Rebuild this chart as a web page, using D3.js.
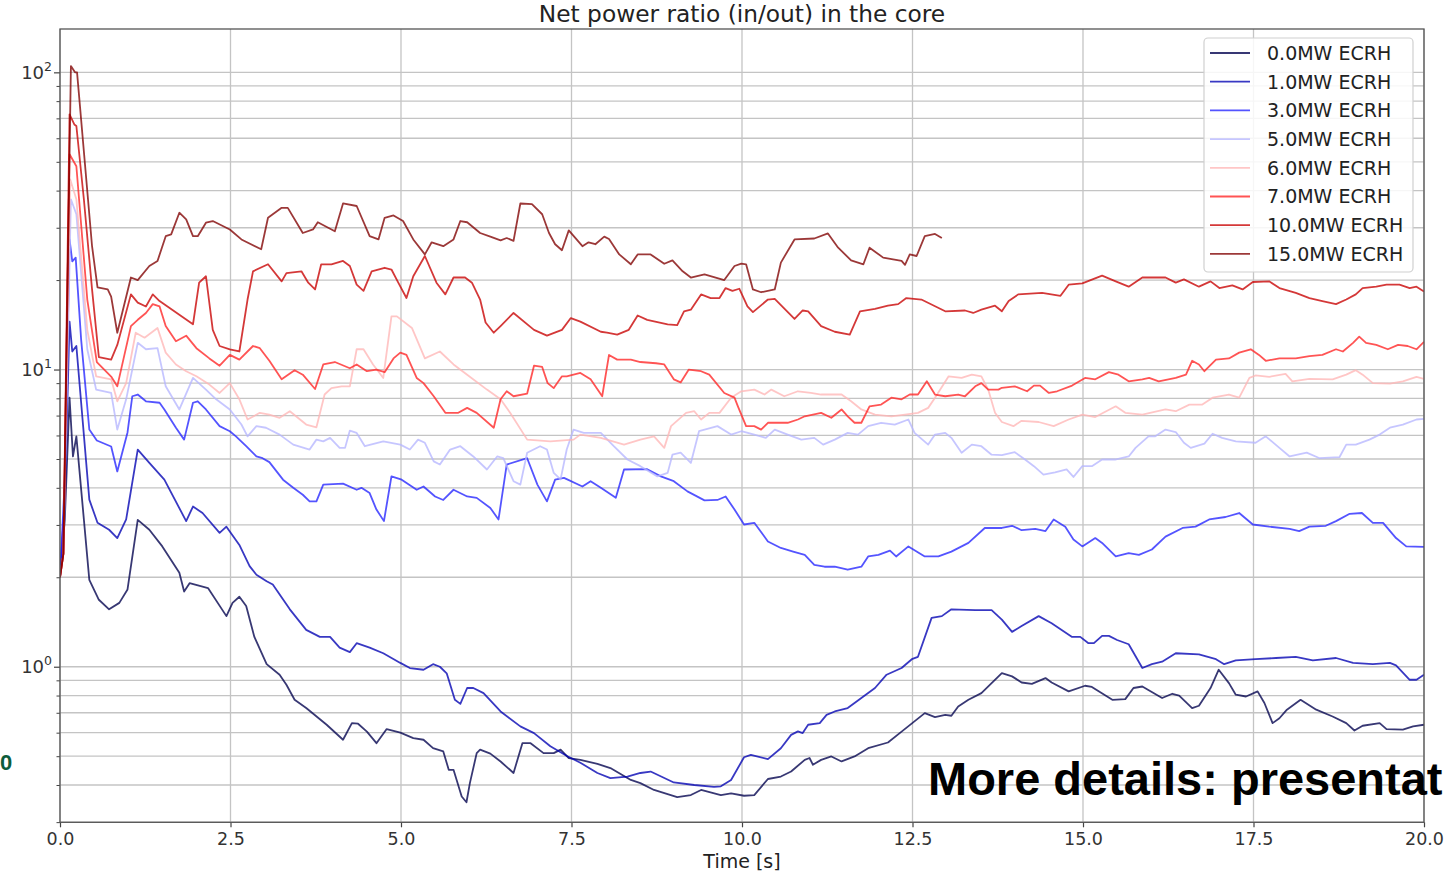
<!DOCTYPE html>
<html>
<head>
<meta charset="utf-8">
<script src="https://cdn.jsdelivr.net/npm/d3@7"></script>
<style>
  body { margin: 0; background: #fff; }
  svg { display: block; font-family: "DejaVu Sans", sans-serif; }
</style>
</head>
<body>
<div id="chart"></div>
<script>
// ---- data: [time s, net power ratio] ----
const ecrh0 = [[0,2.0],[0.07,3.12],[0.14,8.04],[0.19,5.10],[0.24,5.96],[0.43,1.96],[0.57,1.68],[0.72,1.56],[0.87,1.64],[0.99,1.82],[1.14,3.12],[1.31,2.89],[1.50,2.54],[1.75,2.07],[1.82,1.79],[1.90,1.91],[2.09,1.86],[2.17,1.84],[2.44,1.48],[2.53,1.64],[2.63,1.72],[2.73,1.60],[2.85,1.26],[3.03,1.02],[3.22,0.94],[3.32,0.87],[3.44,0.774],[3.61,0.726],[3.91,0.638],[4.15,0.568],[4.28,0.646],[4.37,0.643],[4.50,0.605],[4.64,0.553],[4.79,0.617],[4.99,0.60],[5.18,0.575],[5.33,0.568],[5.47,0.532],[5.62,0.519],[5.70,0.45],[5.77,0.45],[5.89,0.366],[5.96,0.35],[6.01,0.406],[6.11,0.512],[6.16,0.526],[6.31,0.51],[6.46,0.48],[6.65,0.439],[6.78,0.553],[6.90,0.553],[7.09,0.512],[7.24,0.512],[7.34,0.526],[7.46,0.493],[7.63,0.486],[7.88,0.471],[8.07,0.456],[8.37,0.416],[8.51,0.406],[8.71,0.385],[9.05,0.364],[9.25,0.37],[9.40,0.385],[9.69,0.37],[9.84,0.375],[10.03,0.368],[10.18,0.37],[10.38,0.419],[10.57,0.427],[10.72,0.444],[10.92,0.486],[10.99,0.493],[11.04,0.468],[11.16,0.486],[11.31,0.499],[11.46,0.48],[11.65,0.499],[11.85,0.532],[12.14,0.556],[12.34,0.605],[12.68,0.698],[12.83,0.677],[12.98,0.689],[13.07,0.684],[13.17,0.735],[13.32,0.774],[13.51,0.815],[13.66,0.881],[13.81,0.952],[13.96,0.928],[14.10,0.885],[14.25,0.876],[14.45,0.916],[14.54,0.885],[14.79,0.826],[15.03,0.863],[15.13,0.855],[15.43,0.774],[15.62,0.778],[15.74,0.848],[15.87,0.858],[16.16,0.785],[16.31,0.811],[16.41,0.80],[16.60,0.726],[16.70,0.739],[16.87,0.848],[16.99,0.977],[17.14,0.881],[17.24,0.805],[17.39,0.794],[17.56,0.826],[17.66,0.755],[17.78,0.646],[17.88,0.671],[17.99,0.717],[18.19,0.774],[18.42,0.717],[18.66,0.68],[18.86,0.646],[18.98,0.61],[19.10,0.633],[19.35,0.646],[19.45,0.617],[19.69,0.614],[19.84,0.63],[20.0,0.638]];

const ecrh1 = [[0,2.0],[0.07,3.65],[0.14,14.5],[0.18,11.5],[0.24,12.0],[0.43,3.65],[0.55,3.05],[0.72,2.89],[0.84,2.71],[0.97,3.13],[1.14,5.38],[1.31,4.85],[1.53,4.26],[1.85,3.09],[1.95,3.46],[2.09,3.29],[2.34,2.82],[2.44,2.96],[2.63,2.57],[2.78,2.18],[2.88,2.04],[3.03,1.94],[3.12,1.89],[3.37,1.56],[3.61,1.33],[3.81,1.26],[3.96,1.26],[4.10,1.16],[4.25,1.12],[4.35,1.20],[4.54,1.16],[4.74,1.11],[4.99,1.03],[5.13,0.99],[5.33,0.977],[5.47,1.02],[5.57,1.0],[5.67,0.95],[5.79,0.774],[5.87,0.75],[5.97,0.848],[6.06,0.848],[6.21,0.815],[6.46,0.707],[6.75,0.63],[6.95,0.598],[7.19,0.54],[7.44,0.50],[7.63,0.475],[7.88,0.439],[8.07,0.422],[8.32,0.427],[8.51,0.439],[8.66,0.444],[9.00,0.408],[9.30,0.40],[9.59,0.394],[9.69,0.396],[9.84,0.416],[10.03,0.496],[10.13,0.505],[10.38,0.489],[10.57,0.532],[10.72,0.59],[10.82,0.606],[10.89,0.598],[10.97,0.638],[11.14,0.646],[11.24,0.689],[11.36,0.707],[11.55,0.726],[11.75,0.785],[11.95,0.848],[12.12,0.94],[12.34,0.99],[12.49,1.06],[12.58,1.08],[12.78,1.46],[12.93,1.48],[13.07,1.56],[13.42,1.55],[13.66,1.55],[13.81,1.44],[13.96,1.31],[14.10,1.37],[14.35,1.48],[14.54,1.40],[14.84,1.26],[14.96,1.26],[15.08,1.20],[15.16,1.20],[15.28,1.27],[15.38,1.27],[15.50,1.23],[15.67,1.19],[15.87,0.99],[16.01,1.02],[16.16,1.04],[16.36,1.11],[16.70,1.10],[16.95,1.06],[17.07,1.02],[17.24,1.05],[17.53,1.06],[17.83,1.07],[18.12,1.08],[18.37,1.05],[18.71,1.07],[18.96,1.03],[19.25,1.02],[19.50,1.03],[19.59,1.01],[19.79,0.904],[19.89,0.904],[20.0,0.94]];

const ecrh3 = [[0,2.0],[0.07,4.26],[0.14,27.4],[0.18,23.1],[0.23,23.8],[0.31,12.6],[0.43,6.28],[0.54,5.77],[0.75,5.51],[0.84,4.54],[0.99,6.14],[1.06,8.13],[1.14,8.24],[1.26,7.82],[1.46,7.73],[1.53,7.34],[1.70,6.37],[1.82,5.81],[1.95,7.73],[2.02,7.82],[2.14,7.34],[2.34,6.45],[2.49,6.2],[2.58,5.96],[2.73,5.52],[2.88,5.10],[2.97,5.03],[3.07,4.88],[3.27,4.26],[3.42,4.0],[3.56,3.79],[3.66,3.6],[3.76,3.6],[3.86,4.10],[4.15,4.13],[4.35,3.94],[4.42,4.0],[4.54,3.84],[4.64,3.38],[4.75,3.09],[4.86,4.37],[5.01,4.26],[5.23,3.94],[5.33,4.04],[5.50,3.74],[5.62,3.64],[5.77,3.94],[5.97,3.74],[6.11,3.70],[6.31,3.42],[6.43,3.13],[6.55,4.79],[6.85,5.03],[7.00,4.10],[7.14,3.6],[7.26,4.26],[7.39,4.32],[7.66,4.04],[7.78,4.21],[7.93,4.0],[8.15,3.70],[8.27,4.61],[8.61,4.62],[8.81,4.37],[9.00,4.21],[9.20,3.89],[9.45,3.63],[9.64,3.64],[9.76,3.74],[9.89,3.38],[10.03,3.01],[10.18,3.05],[10.38,2.64],[10.57,2.51],[10.75,2.44],[10.92,2.38],[11.06,2.2],[11.21,2.17],[11.36,2.17],[11.55,2.12],[11.75,2.17],[11.85,2.35],[12.00,2.38],[12.17,2.46],[12.26,2.35],[12.44,2.54],[12.68,2.35],[12.88,2.35],[13.07,2.44],[13.32,2.61],[13.56,2.93],[13.81,2.93],[13.96,2.98],[14.10,2.88],[14.30,2.91],[14.45,2.86],[14.57,3.13],[14.74,2.96],[14.86,2.68],[14.99,2.54],[15.18,2.71],[15.28,2.61],[15.48,2.35],[15.67,2.41],[15.82,2.38],[16.01,2.48],[16.21,2.74],[16.46,2.93],[16.65,2.96],[16.85,3.13],[17.09,3.19],[17.29,3.29],[17.49,3.01],[17.73,2.96],[18.03,2.91],[18.17,2.86],[18.32,2.96],[18.56,2.98],[18.71,3.09],[18.91,3.27],[19.09,3.29],[19.25,3.05],[19.40,3.05],[19.59,2.71],[19.74,2.54],[20.0,2.53]];

const ecrh5 = [[0,2.0],[0.05,2.4],[0.16,37.4],[0.24,33.3],[0.40,11.7],[0.53,8.56],[0.75,8.34],[0.84,6.28],[0.97,7.94],[1.14,12.3],[1.26,11.7],[1.43,11.8],[1.55,8.78],[1.75,7.34],[1.95,9.37],[2.14,8.56],[2.29,7.94],[2.49,7.34],[2.66,6.53],[2.75,5.96],[2.88,6.45],[3.02,6.37],[3.22,6.04],[3.42,5.59],[3.66,5.38],[3.76,5.81],[3.86,5.73],[3.96,5.89],[4.10,5.45],[4.18,5.45],[4.25,6.23],[4.35,6.12],[4.47,5.52],[4.74,5.73],[4.99,5.59],[5.13,5.38],[5.25,5.81],[5.35,5.67],[5.48,4.91],[5.57,4.79],[5.72,5.38],[5.87,5.52],[6.06,5.10],[6.26,4.61],[6.41,5.10],[6.50,5.03],[6.65,4.21],[6.75,4.10],[6.85,5.25],[7.04,5.52],[7.14,5.38],[7.24,4.49],[7.34,4.27],[7.43,5.38],[7.53,6.28],[7.68,6.12],[7.93,6.12],[8.12,5.52],[8.32,4.98],[8.51,4.73],[8.76,4.37],[8.91,4.49],[8.98,5.17],[9.10,5.25],[9.25,4.85],[9.37,6.2],[9.64,6.45],[9.84,6.04],[9.99,6.2],[10.18,6.04],[10.35,5.89],[10.48,6.28],[10.67,6.04],[10.87,5.81],[11.06,5.89],[11.19,5.59],[11.36,5.81],[11.55,6.12],[11.70,6.04],[11.85,6.45],[12.04,6.62],[12.24,6.53],[12.44,6.79],[12.53,6.12],[12.73,5.59],[12.83,6.04],[12.98,6.12],[13.07,5.89],[13.22,5.25],[13.37,5.59],[13.51,5.52],[13.66,5.17],[13.81,5.15],[14.00,5.27],[14.15,4.98],[14.28,4.73],[14.42,4.43],[14.59,4.51],[14.76,4.61],[14.86,4.35],[14.99,4.73],[15.13,4.73],[15.28,4.98],[15.47,4.98],[15.67,5.10],[15.77,5.45],[15.96,5.96],[16.06,5.96],[16.21,6.28],[16.36,6.16],[16.48,5.67],[16.58,5.45],[16.78,5.63],[16.90,6.08],[17.04,5.89],[17.24,5.73],[17.53,5.67],[17.68,5.96],[17.88,5.45],[18.03,5.10],[18.28,5.25],[18.47,5.03],[18.76,5.07],[18.86,5.59],[19.00,5.59],[19.20,5.81],[19.35,6.04],[19.50,6.37],[19.69,6.53],[19.89,6.79],[20.0,6.82]];

const ecrh6 = [[0,2.0],[0.05,2.4],[0.15,43.6],[0.24,37.4],[0.40,13.6],[0.53,9.49],[0.75,9.27],[0.84,7.82],[0.97,9.0],[1.11,13.3],[1.24,12.8],[1.43,13.8],[1.55,11.4],[1.70,10.4],[1.85,9.87],[2.00,9.49],[2.19,8.9],[2.34,8.34],[2.49,9.0],[2.63,7.94],[2.75,6.79],[2.93,7.15],[3.07,7.05],[3.22,6.88],[3.37,7.24],[3.61,6.53],[3.76,6.39],[3.88,8.24],[3.98,8.66],[4.13,8.78],[4.25,8.78],[4.35,11.7],[4.45,11.7],[4.59,10.4],[4.74,9.37],[4.86,15.1],[4.94,15.1],[5.16,13.8],[5.35,10.9],[5.57,11.5],[5.77,10.4],[5.97,9.61],[6.26,8.56],[6.46,7.94],[6.60,7.15],[6.85,5.81],[7.19,5.73],[7.53,5.81],[7.63,6.04],[7.93,5.89],[8.27,5.59],[8.51,5.81],[8.71,5.96],[8.86,5.45],[8.96,6.45],[9.18,7.15],[9.30,7.24],[9.40,6.79],[9.52,7.15],[9.67,7.15],[9.84,8.04],[9.99,8.45],[10.18,8.56],[10.33,8.24],[10.43,8.56],[10.62,8.13],[10.82,8.45],[11.01,8.34],[11.16,8.24],[11.46,8.24],[11.60,7.82],[11.75,7.34],[11.95,7.05],[12.19,6.96],[12.39,7.05],[12.58,7.15],[12.73,7.43],[12.83,8.04],[13.03,9.49],[13.22,9.37],[13.37,9.61],[13.51,9.49],[13.61,8.56],[13.71,7.15],[13.81,6.66],[13.98,6.45],[14.10,6.72],[14.35,6.66],[14.57,6.45],[14.79,6.79],[14.99,7.05],[15.18,6.92],[15.48,7.52],[15.62,7.15],[15.87,7.05],[16.21,7.34],[16.36,7.24],[16.56,7.62],[16.75,7.62],[16.90,8.04],[17.14,8.24],[17.29,8.04],[17.44,9.37],[17.53,9.55],[17.73,9.45],[17.97,9.67],[18.07,9.13],[18.32,9.3],[18.66,9.27],[18.86,9.61],[19.00,9.95],[19.10,9.61],[19.25,9.0],[19.50,8.96],[19.69,9.13],[19.89,9.45],[20.0,9.3]];

const ecrh7 = [[0,2.0],[0.05,2.4],[0.14,53.0],[0.24,48.3],[0.40,17.2],[0.54,10.6],[0.75,9.47],[0.84,8.78],[1.04,14.0],[1.14,14.7],[1.26,15.5],[1.36,16.6],[1.46,16.3],[1.55,14.0],[1.70,12.45],[1.85,13.0],[2.00,11.8],[2.19,10.9],[2.34,10.3],[2.49,11.2],[2.63,10.8],[2.83,12.0],[2.93,11.8],[3.07,10.7],[3.25,9.27],[3.44,9.95],[3.56,9.61],[3.74,8.6],[3.86,10.4],[4.03,10.6],[4.25,10.1],[4.35,10.4],[4.50,9.87],[4.64,10.0],[4.76,9.8],[4.89,10.9],[4.99,11.4],[5.08,11.2],[5.23,9.37],[5.33,9.0],[5.48,8.13],[5.65,7.15],[5.84,7.15],[5.97,7.43],[6.11,7.15],[6.36,6.37],[6.46,7.94],[6.55,8.45],[6.65,8.13],[6.85,8.3],[6.95,10.3],[7.07,10.2],[7.15,9.0],[7.24,8.66],[7.36,9.49],[7.43,9.49],[7.63,9.74],[7.78,9.27],[7.95,8.13],[8.05,11.2],[8.17,10.8],[8.37,10.8],[8.51,10.6],[8.74,10.5],[8.86,10.4],[9.00,9.27],[9.10,9.05],[9.22,10.0],[9.40,9.87],[9.52,9.61],[9.74,8.34],[9.89,8.04],[9.94,7.52],[10.06,6.45],[10.18,6.45],[10.28,6.28],[10.38,6.62],[10.67,6.62],[10.82,6.79],[10.92,6.96],[11.16,7.15],[11.31,6.88],[11.46,7.34],[11.55,6.96],[11.65,6.62],[11.75,6.62],[11.87,7.52],[12.04,7.62],[12.19,8.04],[12.34,7.94],[12.46,8.24],[12.58,8.24],[12.71,9.13],[12.83,8.24],[12.98,8.13],[13.17,8.24],[13.27,8.13],[13.42,8.78],[13.51,9.0],[13.61,8.56],[13.76,8.56],[13.81,8.68],[14.00,8.78],[14.18,8.45],[14.28,8.83],[14.37,8.83],[14.50,8.34],[14.62,8.45],[14.84,8.83],[15.03,9.37],[15.18,9.27],[15.38,9.80],[15.52,9.61],[15.67,9.13],[15.87,9.27],[15.97,9.37],[16.11,9.13],[16.36,9.37],[16.51,9.61],[16.60,10.7],[16.70,10.4],[16.78,9.87],[16.95,10.8],[17.14,10.9],[17.29,11.4],[17.46,11.7],[17.58,11.2],[17.68,10.7],[17.88,10.9],[18.12,10.9],[18.32,11.1],[18.51,11.2],[18.71,11.7],[18.81,11.5],[18.96,12.3],[19.05,12.9],[19.15,12.3],[19.30,12.1],[19.47,11.7],[19.62,12.1],[19.76,12.0],[19.89,11.7],[20.0,12.4]];

const ecrh10 = [[0,2.0],[0.05,2.4],[0.14,72.2],[0.21,66.8],[0.24,66.0],[0.35,37.4],[0.47,18.6],[0.57,11.0],[0.75,10.8],[0.84,12.1],[1.04,17.9],[1.14,16.8],[1.26,16.3],[1.36,17.9],[1.46,17.0],[1.95,14.2],[2.04,19.6],[2.14,20.6],[2.24,13.6],[2.34,12.0],[2.49,11.7],[2.63,11.5],[2.75,17.2],[2.83,21.4],[3.05,22.6],[3.25,19.8],[3.32,21.1],[3.54,21.4],[3.64,19.6],[3.74,18.6],[3.83,22.6],[3.98,22.6],[4.15,23.2],[4.25,22.3],[4.35,19.3],[4.45,18.4],[4.57,21.4],[4.76,22.0],[4.86,21.7],[4.96,19.6],[5.08,17.4],[5.18,20.6],[5.35,24.1],[5.52,19.6],[5.65,17.9],[5.77,20.4],[5.94,20.4],[6.04,19.6],[6.16,17.2],[6.24,14.4],[6.36,13.3],[6.46,14.0],[6.65,15.5],[6.95,13.6],[7.14,13.0],[7.36,13.6],[7.49,14.9],[7.63,14.5],[7.93,13.4],[8.02,13.3],[8.17,13.1],[8.34,13.6],[8.47,15.2],[8.61,14.7],[8.91,14.2],[9.05,14.1],[9.15,15.7],[9.25,15.9],[9.40,17.9],[9.54,17.4],[9.67,17.4],[9.76,18.8],[9.86,18.4],[9.96,18.7],[10.08,16.3],[10.16,15.6],[10.38,17.2],[10.48,17.3],[10.77,14.8],[10.89,15.8],[10.97,15.7],[11.16,14.0],[11.36,13.4],[11.58,13.1],[11.73,15.7],[11.95,16.0],[12.14,16.4],[12.29,16.6],[12.41,17.4],[12.63,17.2],[12.98,15.7],[13.27,15.8],[13.39,15.5],[13.51,15.9],[13.71,16.4],[13.81,15.7],[13.91,17.0],[14.05,17.9],[14.40,18.1],[14.67,17.7],[14.79,19.3],[14.99,19.5],[15.28,20.7],[15.48,19.8],[15.67,19.0],[15.87,20.4],[16.21,20.4],[16.36,19.6],[16.48,20.1],[16.70,19.0],[16.87,19.8],[17.00,18.8],[17.19,19.2],[17.34,18.6],[17.49,19.7],[17.73,19.8],[17.88,18.8],[18.12,18.1],[18.32,17.4],[18.51,17.0],[18.71,16.6],[18.86,17.2],[19.00,17.9],[19.10,18.8],[19.30,19.0],[19.45,19.3],[19.64,19.3],[19.79,18.8],[19.89,19.0],[20.0,18.3]];

const ecrh15 = [[0,2.0],[0.05,2.4],[0.16,105],[0.22,100],[0.25,100],[0.47,26.0],[0.55,18.9],[0.70,18.6],[0.75,17.6],[0.84,13.3],[1.04,20.4],[1.14,20.0],[1.31,22.3],[1.43,23.2],[1.55,28.1],[1.63,28.5],[1.75,33.7],[1.85,32.0],[1.95,28.1],[2.02,28.1],[2.14,31.2],[2.24,31.6],[2.49,29.6],[2.66,27.4],[2.95,25.4],[3.05,32.4],[3.25,35.0],[3.34,35.0],[3.56,28.8],[3.71,29.6],[3.78,31.3],[4.03,29.2],[4.15,36.2],[4.35,35.5],[4.54,28.1],[4.67,27.4],[4.76,32.4],[4.89,33.0],[5.03,31.6],[5.18,27.4],[5.35,24.4],[5.45,26.8],[5.62,26.0],[5.77,27.4],[5.87,31.6],[5.97,31.3],[6.16,28.8],[6.31,28.0],[6.46,27.2],[6.55,27.7],[6.65,27.1],[6.75,36.2],[6.92,36.0],[7.07,33.3],[7.17,28.8],[7.26,26.4],[7.36,25.2],[7.46,29.4],[7.66,26.0],[7.75,26.8],[7.85,26.4],[7.98,28.0],[8.05,27.5],[8.20,24.4],[8.37,22.6],[8.47,24.4],[8.66,24.4],[8.86,22.7],[8.98,23.3],[9.13,21.4],[9.25,20.4],[9.45,20.9],[9.74,20.0],[9.89,22.3],[9.99,22.7],[10.06,22.6],[10.16,18.6],[10.28,18.2],[10.48,18.6],[10.57,22.9],[10.77,27.4],[11.06,27.6],[11.26,28.7],[11.41,25.7],[11.60,23.3],[11.78,22.6],[11.87,25.7],[12.07,23.8],[12.34,23.2],[12.39,22.5],[12.46,24.4],[12.56,24.1],[12.68,28.1],[12.83,28.6],[12.93,27.7]];

const powers = [0.0, 1.0, 3.0, 5.0, 6.0, 7.0, 10.0, 15.0];
const seriesData = [ecrh0, ecrh1, ecrh3, ecrh5, ecrh6, ecrh7, ecrh10, ecrh15];
// seismic colormap sampled at i/7
const seriesColors = ["#00004d", "#0000b2", "#2424ff", "#b6b6ff", "#ffb6b6", "#ff2424", "#c80000", "#800000"];

const xTicks = [0, 2.5, 5, 7.5, 10, 12.5, 15, 17.5, 20];
const yMajor = [1, 10, 100];
const yMinor = [0.3, 0.4, 0.5, 0.6, 0.7, 0.8, 0.9, 2, 3, 4, 5, 6, 7, 8, 9, 20, 30, 40, 50, 60, 70, 80, 90];
const yExponents = ["0", "1", "2"];

const chartTitle = "Net power ratio (in/out) in the core";
const xTitle = "Time [s]";

// ---- layout ----
const width = 1447, height = 873;
const plot = {left: 60, right: 1424, top: 29, bottom: 822.3};

const svg = d3.select("#chart").append("svg")
    .attr("width", width)
    .attr("height", height);

svg.append("rect").attr("width", width).attr("height", height).attr("fill", "#fff");

const x = d3.scaleLinear().domain([0, 20]).range([plot.left, plot.right]);
const y = d3.scaleLog().domain([0.2996, 139.9]).range([plot.bottom, plot.top]);

// grid
const grid = svg.append("g").attr("stroke", "#c4c4c4").attr("stroke-width", 1.3);
grid.selectAll("line.hgrid")
    .data(yMajor.concat(yMinor))
    .enter().append("line")
    .attr("class", "hgrid")
    .attr("x1", plot.left).attr("x2", plot.right)
    .attr("y1", d => y(d)).attr("y2", d => y(d));
grid.selectAll("line.vgrid")
    .data(xTicks)
    .enter().append("line")
    .attr("class", "vgrid")
    .attr("x1", d => x(d)).attr("x2", d => x(d))
    .attr("y1", plot.top).attr("y2", plot.bottom);

// lines
svg.append("clipPath").attr("id", "plotClip")
  .append("rect")
    .attr("x", plot.left).attr("y", plot.top)
    .attr("width", plot.right - plot.left).attr("height", plot.bottom - plot.top);

const line = d3.line()
    .x(d => x(d[0]))
    .y(d => y(d[1]));

svg.append("g")
    .attr("clip-path", "url(#plotClip)")
  .selectAll("path")
    .data(seriesData)
    .enter().append("path")
    .attr("d", line)
    .attr("fill", "none")
    .attr("stroke", (d, i) => seriesColors[i])
    .attr("stroke-opacity", 0.78)
    .attr("stroke-width", 1.8)
    .attr("stroke-linejoin", "round");

// axes
const xAxis = svg.append("g")
    .attr("transform", `translate(0,${plot.bottom})`)
    .call(d3.axisBottom(x).tickValues(xTicks).tickFormat(d3.format(".1f")).tickSize(5).tickPadding(5));
xAxis.select(".domain").remove();
xAxis.selectAll(".tick line").attr("stroke", "#444").attr("stroke-width", 1.2);
xAxis.selectAll(".tick text")
    .attr("font-family", "DejaVu Sans")
    .attr("font-size", 17.5)
    .attr("fill", "#333");

const yAxis = svg.append("g")
    .attr("transform", `translate(${plot.left},0)`)
    .call(d3.axisLeft(y).tickValues(yMajor).tickFormat("").tickSize(6));
yAxis.select(".domain").remove();
yAxis.selectAll(".tick line").attr("stroke", "#444").attr("stroke-width", 1.2);

const yMinorAxis = svg.append("g")
    .attr("transform", `translate(${plot.left},0)`)
    .call(d3.axisLeft(y).tickValues(yMinor).tickFormat("").tickSize(3.5));
yMinorAxis.select(".domain").remove();
yMinorAxis.selectAll(".tick line").attr("stroke", "#444").attr("stroke-width", 1);

const yLabels = svg.append("g")
  .selectAll("text")
    .data(yMajor)
    .enter().append("text")
    .attr("x", plot.left - 8)
    .attr("y", d => y(d) + 6.5)
    .attr("text-anchor", "end")
    .attr("font-size", 18)
    .attr("fill", "#333");
yLabels.append("tspan").text("10");
yLabels.append("tspan")
    .attr("dy", -8)
    .attr("font-size", 12.5)
    .text((d, i) => yExponents[i]);

// spines
svg.append("rect")
    .attr("x", plot.left).attr("y", plot.top)
    .attr("width", plot.right - plot.left).attr("height", plot.bottom - plot.top)
    .attr("fill", "none")
    .attr("stroke", "#555")
    .attr("stroke-width", 1.3);

// titles
svg.append("text")
    .attr("x", (plot.left + plot.right) / 2)
    .attr("y", 22)
    .attr("text-anchor", "middle")
    .attr("font-size", 23.3)
    .attr("fill", "#222")
    .text(chartTitle);

svg.append("text")
    .attr("x", (plot.left + plot.right) / 2)
    .attr("y", 868)
    .attr("text-anchor", "middle")
    .attr("font-size", 19)
    .attr("fill", "#222")
    .text(xTitle);

// legend
const legend = svg.append("g");
legend.append("rect")
    .attr("x", 1204).attr("y", 38)
    .attr("width", 209).attr("height", 234)
    .attr("rx", 4)
    .attr("fill", "#fff")
    .attr("fill-opacity", 0.85)
    .attr("stroke", "#d0d0d0")
    .attr("stroke-width", 1.2);

const legendStep = 28.7;
const items = legend.selectAll("g.item")
    .data(powers)
    .enter().append("g")
    .attr("class", "item")
    .attr("transform", (d, i) => `translate(0,${53 + i * legendStep})`);
items.append("line")
    .attr("x1", 1210).attr("x2", 1250)
    .attr("stroke", (d, i) => seriesColors[i])
    .attr("stroke-opacity", 0.78)
    .attr("stroke-width", 1.8);
items.append("text")
    .attr("x", 1267)
    .attr("dy", "0.36em")
    .attr("font-size", 19)
    .attr("fill", "#222")
    .text(d => d.toFixed(1) + "MW ECRH");

// overlay text from the slide (as far as the reference shows it)
svg.append("text")
    .attr("x", 928)
    .attr("y", 795)
    .attr("font-family", "Liberation Sans, Arial, sans-serif")
    .attr("font-weight", "bold")
    .attr("font-size", 47)
    .attr("fill", "#000")
    .text("More details: presentat");

svg.append("text")
    .attr("x", 0)
    .attr("y", 770)
    .attr("font-family", "Liberation Sans, Arial, sans-serif")
    .attr("font-weight", "bold")
    .attr("font-size", 22)
    .attr("fill", "#0d5c3c")
    .text("0");
</script>
</body>
</html>
